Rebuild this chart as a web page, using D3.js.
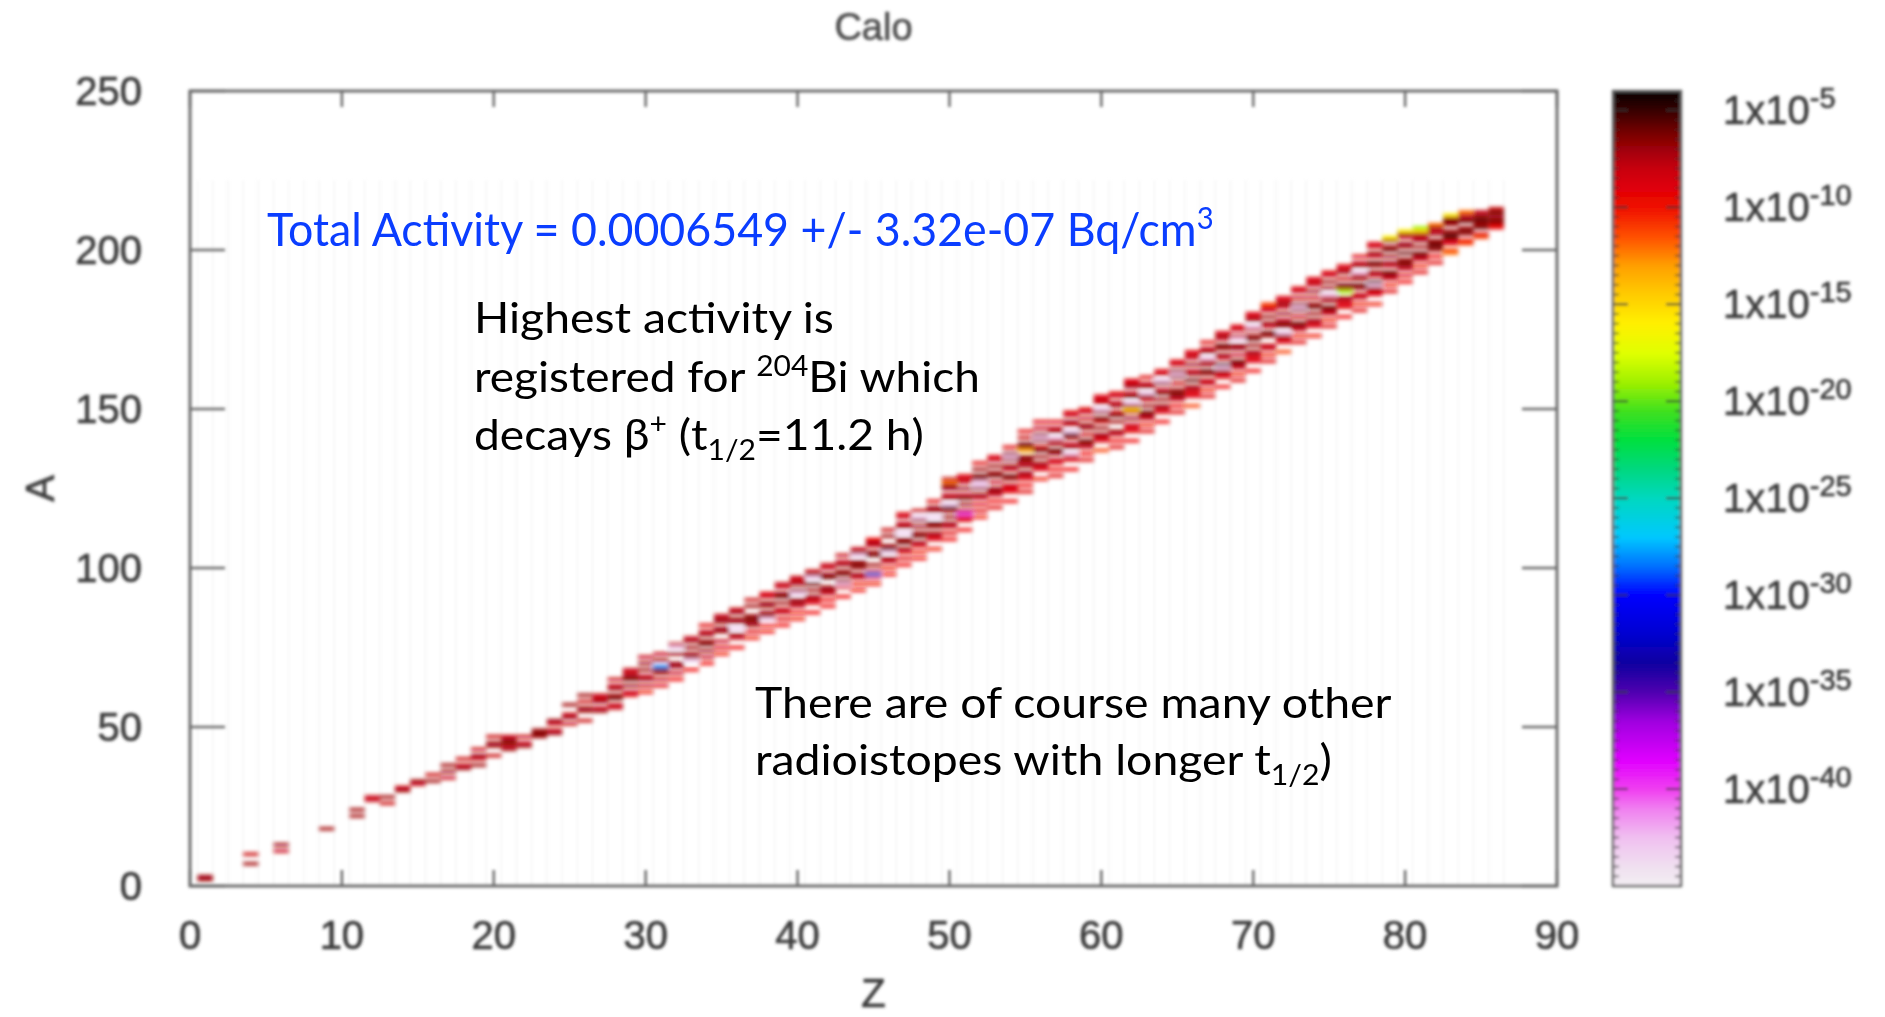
<!DOCTYPE html>
<html>
<head>
<meta charset="utf-8">
<script src="https://cdn.jsdelivr.net/npm/d3@7"></script>
<style>
  html, body { margin: 0; padding: 0; background: #fff; overflow: hidden; }
  svg { display: block; }
</style>
</head>
<body>
<svg id="chart" width="1885" height="1017"></svg>
<script>
// ---- axis ticks ----
const zTicks = [0, 10, 20, 30, 40, 50, 60, 70, 80, 90];
const aTicks = [0, 50, 100, 150, 200, 250];
const cbTickExps = [-5, -10, -15, -20, -25, -30, -35, -40];

// ---- palette: log10(activity) stops and their colours ----
const paletteExp = [-45, -44, -42.5, -41, -40, -38.5, -36.5, -35, -33.5, -32, -30, -28.5, -27, -25,
                    -23.5, -22, -20.5, -19, -17.5, -16, -14.5, -13, -11.5, -10, -9, -8, -7, -6, -5, -4];
const paletteCol = ["#f3eef3", "#f0e0f0", "#f0c0f0", "#f080f0", "#f040f0", "#e000ff", "#a000e0", "#5000b0",
                    "#1000a0", "#0000d0", "#0000ff", "#0070ff", "#00c8ff", "#00d8c0", "#00d880", "#00e040",
                    "#40e020", "#a0f000", "#e0ff00", "#fff000", "#ffcc00", "#ffa000", "#ff5000", "#f01000",
                    "#e00008", "#c80010", "#a00008", "#700000", "#380000", "#080000"];

// ---- activity per nuclide (Bq/cm3) ----
// Each row: [Z, first A, one letter per consecutive A]
// letters: 'a' = 1e-5, 'b' = 1e-6 ... 'z' = 1e-30, 'A' = 1e-31 ... 'O' = 1e-45, '.' = nothing recorded
const nuclideRows = [
  [1, 2, "cc"],
  [4, 7, "c..d"],
  [6, 11, "d.c"],
  [9, 18, "c"],
  [11, 22, "c.c"],
  [12, 27, "dd"],
  [13, 26, "d.c"],
  [14, 30, "cd"],
  [15, 32, "dc"],
  [16, 33, "c.d"],
  [17, 34, "d.c.c"],
  [18, 37, "cd.d"],
  [19, 38, "c.dc.d"],
  [20, 41, "d..cc.d"],
  [21, 43, "cdbcd"],
  [22, 44, "cd.d"],
  [23, 47, "cbc"],
  [24, 48, "cd.dc"],
  [25, 51, "d.cd..c"],
  [26, 52, "d..cc.d.c"],
  [27, 55, "cd.cdd"],
  [28, 56, "dd.bc.cd.d"],
  [29, 60, "ed.c.bcdd"],
  [30, 61, "f.d.cd.c.c.d"],
  [31, 63, "e.d.cbx.c.d"],
  [32, 65, "f.d.cc..c.Md"],
  [33, 68, "f..Mcc.c.cd"],
  [34, 70, "f.d.c.bc.cd.e"],
  [35, 73, "f.e.d..cc.ccd"],
  [36, 75, "f..dc.M.cc.cd"],
  [37, 78, "f.e.ccbc..c.d"],
  [38, 80, "f.f.Mcc.cc.de"],
  [39, 82, "f.e.dd.c.bc.dd"],
  [40, 84, "f.f.dcc.Mc.cdd"],
  [41, 86, "f..edc.c.b.Mcd"],
  [42, 88, "f.f.dcc..bc.dd"],
  [43, 91, "f..eMc.bc.cd.d"],
  [44, 93, "f.f.dc.cbc.Mcd"],
  [45, 95, "f.exd.c..bc.dcf"],
  [46, 98, "f.f.dc.Mbc..c.d"],
  [47, 101, "f.e.ec.bc.M.cd.de"],
  [48, 103, "f.f.ec.bc.c.cM.d"],
  [49, 106, "f..edc.cb.M.cc.e"],
  [50, 109, "f.e.dc.c.cbM.cd.cchd"],
  [51, 112, "f..eeJd.c.bd.c.dde"],
  [52, 116, "f.e.e.dc.cMMcb.c.e"],
  [53, 119, "e.f.dcc.d.bc.c.de"],
  [54, 121, "f..eed.cb.dc.cMc.e"],
  [55, 124, "e.f.edc.cdbc.icb.d.e"],
  [56, 128, "f..edc.c.bd.cMc.d.e"],
  [57, 129, "e.f.ed.cb.cdM.cd.e"],
  [58, 131, "f..edM.cd.cbM.dc.de"],
  [59, 134, "e.f.dcb.d.cc.d.de"],
  [60, 137, "g..edc.c.db.cM.dde"],
  [61, 138, "e.f.dc..c.bd.cd.de"],
  [62, 140, "f..eed.c.dkcM.bd.cde"],
  [63, 143, "e.f.dcb.c.dcM.cd.e"],
  [64, 146, "f..edc.c.bd.cM.de"],
  [65, 149, "e.f.dcbc.d.cMc.de"],
  [66, 151, "g..eedc.b.cd.c.dde"],
  [67, 154, "e.f.dd.cb.cdM.cd.e"],
  [68, 157, "f..edcMb.dc.cb.dce"],
  [69, 159, "e.f.dcb.d.cc.Md.de"],
  [70, 162, "f..eedc.c.bc.dM.cde"],
  [71, 165, "e.f.dd..cb.dc.c.deg"],
  [72, 168, "g..edcM.cbd.c.dcde"],
  [73, 171, "e.f.dcb.d.cMc.d.de"],
  [74, 173, "f..edc.c.bc.d.c.dde"],
  [75, 176, "e.f.dcb.cdM.c.c.de"],
  [76, 179, "f..eedc.ocb.d.cde"],
  [77, 181, "e.f.dd.cb.cdM.cd.e"],
  [78, 183, "f..edcMb.dc.cb.dc.de"],
  [79, 187, "e.f.dcb.dc.c.bc.cl"],
  [80, 190, "f.e.dcbc.b.cc.dcl"],
  [81, 193, "e.f.dcb.c.cdcko"],
  [82, 196, "e.f.cbbc.cdch"],
  [83, 199, "hg.edabc.cbcl"],
  [84, 202, "gf.cbc.bcdh"],
  [85, 204, "ge.bcbbcd"],
  [86, 207, "fdbccbd"]
];

// ---- decode rows into cells ----
function codeToExp(ch) {
  const c = ch.charCodeAt(0);
  if (c >= 97 && c <= 122) return -5 - (c - 97);
  return -31 - (c - 65);
}
const cells = [];
nuclideRows.forEach(([z, a0, codes]) => {
  [...codes].forEach((ch, i) => {
    if (ch === ".") return;
    cells.push({ z: z, a: a0 + i, activity: Math.pow(10, codeToExp(ch)) });
  });
});

// ---- layout ----
const W = 1885, H = 1017;
const plot = { left: 190, right: 1557, top: 91, bottom: 886 };
const cb = { left: 1613, right: 1681 };

const x = d3.scaleLinear().domain([0, 90]).range([plot.left, plot.right]);
const y = d3.scaleLinear().domain([0, 250]).range([plot.bottom, plot.top]);
const cbY = d3.scaleLog().domain([1e-45, 1e-4]).range([plot.bottom, plot.top]);
const colorOfExp = d3.scaleLinear().domain(paletteExp).range(paletteCol).interpolate(d3.interpolateRgb).clamp(true);
const color = v => colorOfExp(Math.log10(v));

const svg = d3.select("#chart");
const defs = svg.append("defs");
function blurFilter(id, sd) {
  defs.append("filter").attr("id", id)
    .attr("filterUnits", "userSpaceOnUse")
    .attr("x", 0).attr("y", 0).attr("width", W).attr("height", H)
    .append("feGaussianBlur").attr("stdDeviation", sd);
}
blurFilter("soft", 1.5);
blurFilter("softer", 2.3);

svg.append("rect").attr("width", W).attr("height", H).attr("fill", "#fff");

// faint cell columns of the empty grid
const gridG = svg.append("g").attr("filter", "url(#soft)");
gridG.selectAll("line").data(d3.range(0, 87)).join("line")
  .attr("x1", d => x(d + 0.5)).attr("x2", d => x(d + 0.5))
  .attr("y1", y(222)).attr("y2", plot.bottom)
  .attr("stroke", "#d8d8d8").attr("stroke-opacity", 0.4).attr("stroke-width", 1);

// nuclide cells
svg.append("g").attr("filter", "url(#softer)")
  .selectAll("rect").data(cells).join("rect")
  .attr("x", d => x(d.z - 0.5))
  .attr("y", d => y(d.a + 0.5))
  .attr("width", d => x(d.z + 0.5) - x(d.z - 0.5))
  .attr("height", d => y(d.a - 0.5) - y(d.a + 0.5))
  .attr("fill", d => color(d.activity));

const chart = svg.append("g").attr("filter", "url(#soft)");

// frame and ticks
const axisCol = "#6a6a6a";
const tickG = chart.append("g").attr("stroke", axisCol).attr("stroke-width", 2.5);
aTicks.forEach(a => {
  tickG.append("line").attr("x1", plot.left).attr("x2", plot.left + 35).attr("y1", y(a)).attr("y2", y(a));
  tickG.append("line").attr("x1", plot.right - 35).attr("x2", plot.right).attr("y1", y(a)).attr("y2", y(a));
});
zTicks.forEach(z => {
  tickG.append("line").attr("x1", x(z)).attr("x2", x(z)).attr("y1", plot.bottom).attr("y2", plot.bottom - 16);
  tickG.append("line").attr("x1", x(z)).attr("x2", x(z)).attr("y1", plot.top).attr("y2", plot.top + 16);
});
chart.append("rect")
  .attr("x", plot.left).attr("y", plot.top)
  .attr("width", plot.right - plot.left).attr("height", plot.bottom - plot.top)
  .attr("fill", "none").attr("stroke", axisCol).attr("stroke-width", 3);

// tick labels
const labFont = "'Liberation Sans', Arial, sans-serif";
const labCol = "#3c3c3c";
function labelStyle(sel, size) {
  sel.attr("font-family", labFont).attr("font-size", size)
    .attr("fill", labCol).attr("stroke", labCol).attr("stroke-width", 0.7);
}
chart.append("g").selectAll("text").data(aTicks).join("text")
  .attr("x", 142).attr("y", d => y(d) + 14)
  .attr("text-anchor", "end").call(labelStyle, 40).text(d => d);
chart.append("g").selectAll("text").data(zTicks).join("text")
  .attr("x", d => x(d)).attr("y", 949)
  .attr("text-anchor", "middle").call(labelStyle, 40).text(d => d);

// titles
chart.append("text").attr("x", (plot.left + plot.right) / 2).attr("y", 40)
  .attr("text-anchor", "middle").call(labelStyle, 38).attr("fill", "#505050").attr("stroke", "#505050")
  .text("Calo");
chart.append("text").attr("x", (plot.left + plot.right) / 2).attr("y", 1007)
  .attr("text-anchor", "middle").call(labelStyle, 40).text("Z");
chart.append("text")
  .attr("transform", `translate(54, ${(plot.top + plot.bottom) / 2}) rotate(-90)`)
  .attr("text-anchor", "middle").call(labelStyle, 40).text("A");

// colour bar
const cbSteps = d3.range(-45, -4, 0.1);
chart.append("g").selectAll("rect").data(cbSteps).join("rect")
  .attr("x", cb.left).attr("width", cb.right - cb.left)
  .attr("y", d => cbY(Math.pow(10, d + 0.1)) - 0.5)
  .attr("height", d => cbY(Math.pow(10, d)) - cbY(Math.pow(10, d + 0.1)) + 1)
  .attr("fill", d => colorOfExp(d + 0.05));

const cbTickG = chart.append("g").attr("stroke", "#333").attr("stroke-width", 2);
d3.range(-44.5, -4, 0.5).forEach(e => {
  const major = cbTickExps.includes(e);
  const len = major ? 15 : 6;
  const yy = cbY(Math.pow(10, e));
  cbTickG.append("line").attr("x1", cb.left).attr("x2", cb.left + len).attr("y1", yy).attr("y2", yy)
    .attr("stroke-opacity", major ? 0.9 : 0.6);
  cbTickG.append("line").attr("x1", cb.right - len).attr("x2", cb.right).attr("y1", yy).attr("y2", yy)
    .attr("stroke-opacity", major ? 0.9 : 0.6);
});
chart.append("rect")
  .attr("x", cb.left).attr("y", plot.top)
  .attr("width", cb.right - cb.left).attr("height", plot.bottom - plot.top)
  .attr("fill", "none").attr("stroke", "#666").attr("stroke-width", 2.5);

const cbLab = chart.append("g").selectAll("text").data(cbTickExps).join("text")
  .attr("x", 1723).attr("y", d => cbY(Math.pow(10, d)) + 14)
  .call(labelStyle, 40);
cbLab.append("tspan").text("1x10");
cbLab.append("tspan").attr("dy", -16).attr("font-size", 29).text(d => d);

// ---- annotations ----
const noteFont = "Lato, 'Open Sans', sans-serif";
function fitWidth(sel, x0, target) {
  const w = sel.node().getBBox().width;
  const s = target / w;
  sel.attr("transform", `translate(${x0},0) scale(${s},1) translate(${-x0},0)`);
}

const total = svg.append("text").attr("x", 267).attr("y", 246)
  .attr("font-family", noteFont).attr("font-size", 46).attr("fill", "#0a3dff");
total.append("tspan").text("Total Activity = 0.0006549 +/- 3.32e-07 Bq/cm");
total.append("tspan").attr("dy", -17).attr("font-size", 30).text("3");
fitWidth(total, 267, 947);

function note(xPos, yPos, parts, target) {
  const t = svg.append("text").attr("x", xPos).attr("y", yPos)
    .attr("font-family", noteFont).attr("font-size", 43).attr("fill", "#000");
  parts.forEach(p => {
    const s = t.append("tspan").text(p.t);
    if (p.sup) s.attr("dy", -16).attr("font-size", 28);
    if (p.sub) s.attr("dy", 10).attr("font-size", 28);
    if (p.back) s.attr("dy", p.back);
  });
  fitWidth(t, xPos, target);
}

note(474, 333, [{ t: "Highest activity is" }], 360);
note(474, 392, [{ t: "registered for " }, { t: "204", sup: true }, { t: "Bi which", back: 16 }], 506);
note(474, 450, [{ t: "decays β" }, { t: "+", sup: true }, { t: " (t", back: 16 }, { t: "1/2", sub: true },
                { t: "=11.2 h)", back: -10 }], 450);
note(755, 718, [{ t: "There are of course many other" }], 637);
note(755, 775, [{ t: "radioistopes with longer t" }, { t: "1/2", sub: true }, { t: ")", back: -10 }], 577);
</script>
</body>
</html>
